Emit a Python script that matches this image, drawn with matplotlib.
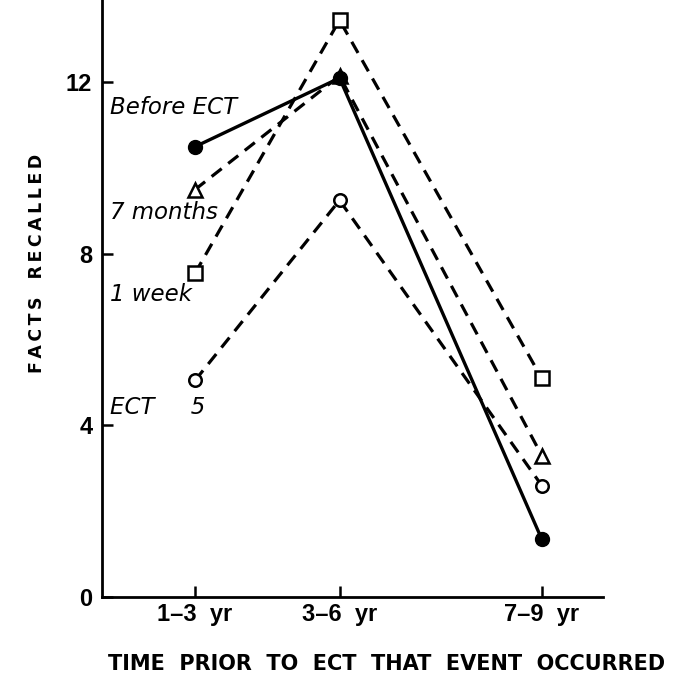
import matplotlib
matplotlib.use("Agg")
import matplotlib.pyplot as plt

plt.rcParams['font.family'] = ['Liberation Sans', 'DejaVu Sans']

# data
x_pos = [2, 4.5, 8]
x_labels = ['1–3  yr', '3–6  yr', '7–9  yr']
before_ect = [10.5, 12.1, 1.35]
seven_months = [9.5, 12.15, 3.3]
one_week = [7.55, 13.45, 5.1]
ect5 = [5.05, 9.25, 2.6]


def spaced(s):
    # wide letter spacing like the original typesetting
    return '\u2009'.join(s)


fig = plt.figure(figsize=(6.77, 6.8), dpi=100)
ax = fig.add_axes([0.1507, 0.122, 0.74, 0.878])

dash = (0, (4, 2.6))
ax.plot(x_pos, ect5, color='black', lw=2.3, linestyle=dash, marker='o', ms=9,
        mfc='white', mec='black', mew=1.8)
ax.plot(x_pos, one_week, color='black', lw=2.3, linestyle=dash, marker='s', ms=9.5,
        mfc='white', mec='black', mew=1.8)
ax.plot(x_pos, seven_months, color='black', lw=2.3, linestyle=dash, marker='^', ms=10,
        mfc='white', mec='black', mew=1.8)
ax.plot(x_pos, before_ect, color='black', lw=2.4, linestyle='-', marker='o', ms=10,
        mfc='black', mec='black')

lab = dict(fontsize=16.5, style='italic', family='DejaVu Sans', color='black',
           va='center', ha='left')
ax.text(0.53, 11.42, 'Before ECT', **lab)
ax.text(0.53, 8.97, '7 months', **lab)
ax.text(0.53, 7.05, '1 week', **lab)
ax.text(0.53, 4.42, 'ECT     5', **lab)

ax.set_xlim(0.39, 9.06)
ax.set_ylim(0, 13.92)
ax.set_xticks(x_pos)
ax.set_xticklabels(x_labels, fontsize=17, fontweight='bold')
ax.set_yticks([0, 4, 8, 12])
ax.set_yticklabels(['0', '4', '8', '12'], fontsize=17, fontweight='bold')
ax.tick_params(direction='in', length=8, width=1.8, pad=7)
ax.tick_params(axis='x', pad=4)

for s in ['top', 'right']:
    ax.spines[s].set_visible(False)
for s in ['left', 'bottom']:
    ax.spines[s].set_linewidth(2)

ax.set_xlabel('TIME  PRIOR  TO  ECT  THAT  EVENT  OCCURRED', fontsize=15,
              fontweight='bold', family='DejaVu Sans')
ax.xaxis.set_label_coords(0.567, -0.095)
ax.set_ylabel(spaced('FACTS') + '   ' + spaced('RECALLED'), fontsize=12.5,
              fontweight='bold', family='DejaVu Sans')
ax.yaxis.set_label_coords(-0.112, 0.559)

fig.savefig('out.png', dpi=100)
